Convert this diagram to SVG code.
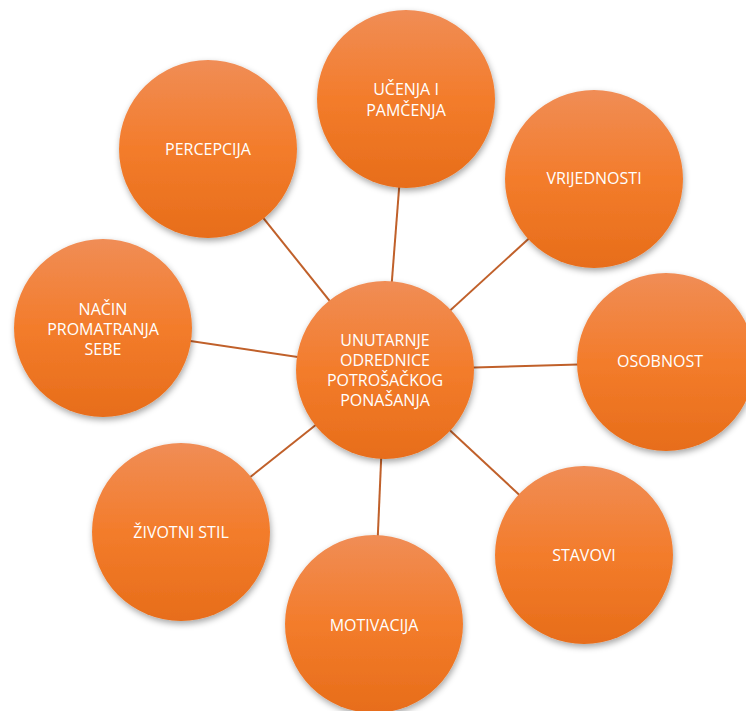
<svg xmlns="http://www.w3.org/2000/svg" width="746" height="711" viewBox="0 0 746 711">
  <defs>
    <linearGradient id="orange" x1="0" y1="0" x2="0" y2="1">
      <stop offset="0" stop-color="#f08d56"/>
      <stop offset="0.5" stop-color="#f37c2b"/>
      <stop offset="1" stop-color="#e76d1a"/>
    </linearGradient>
    <filter id="shadow" x="-20%" y="-20%" width="140%" height="145%">
      <feDropShadow dx="1" dy="3" stdDeviation="3" flood-color="#000" flood-opacity="0.35"/>
    </filter>
  </defs>
  <style>
    .node circle { fill: url(#orange); filter: url(#shadow); }
    .node text { fill: #ffffff; font-family: "Open Sans", "Liberation Sans", sans-serif; font-size: 16px; text-anchor: middle; }
    .conn line { stroke: #c0602a; stroke-width: 2; }
  </style>
  <rect width="746" height="711" fill="#ffffff"/>
  <g id="connectors" class="conn">
    <line x1="385" y1="370" x2="406" y2="99"/>
    <line x1="385" y1="370" x2="208" y2="149"/>
    <line x1="385" y1="370" x2="594" y2="179"/>
    <line x1="385" y1="370" x2="103" y2="328"/>
    <line x1="385" y1="370" x2="666" y2="362"/>
    <line x1="385" y1="370" x2="584" y2="555"/>
    <line x1="385" y1="370" x2="181" y2="532"/>
    <line x1="385" y1="370" x2="374" y2="624"/>
  </g>
  <g id="n-ucenja" class="node">
    <circle cx="406" cy="99" r="89"/>
    <text x="406" y="95">UČENJA I</text>
    <text x="406" y="116">PAMČENJA</text>
  </g>
  <g id="n-percepcija" class="node">
    <circle cx="208" cy="149" r="89"/>
    <text x="208" y="155">PERCEPCIJA</text>
  </g>
  <g id="n-vrijednosti" class="node">
    <circle cx="594" cy="179" r="89"/>
    <text x="594" y="184">VRIJEDNOSTI</text>
  </g>
  <g id="n-nacin" class="node">
    <circle cx="103" cy="328" r="89"/>
    <text x="103" y="315">NAČIN</text>
    <text x="103" y="335">PROMATRANJA</text>
    <text x="103" y="355">SEBE</text>
  </g>
  <g id="n-osobnost" class="node">
    <circle cx="666" cy="362" r="89"/>
    <text x="660" y="367">OSOBNOST</text>
  </g>
  <g id="n-stavovi" class="node">
    <circle cx="584" cy="555" r="89"/>
    <text x="584" y="561">STAVOVI</text>
  </g>
  <g id="n-zivotni" class="node">
    <circle cx="181" cy="532" r="89"/>
    <text x="181" y="538">ŽIVOTNI STIL</text>
  </g>
  <g id="n-motivacija" class="node">
    <circle cx="374" cy="624" r="89"/>
    <text x="374" y="631">MOTIVACIJA</text>
  </g>
  <g id="n-center" class="node">
    <circle cx="385" cy="370" r="89"/>
    <text x="385" y="346">UNUTARNJE</text>
    <text x="385" y="366">ODREDNICE</text>
    <text x="385" y="386">POTROŠAČKOG</text>
    <text x="385" y="406">PONAŠANJA</text>
  </g>
</svg>
